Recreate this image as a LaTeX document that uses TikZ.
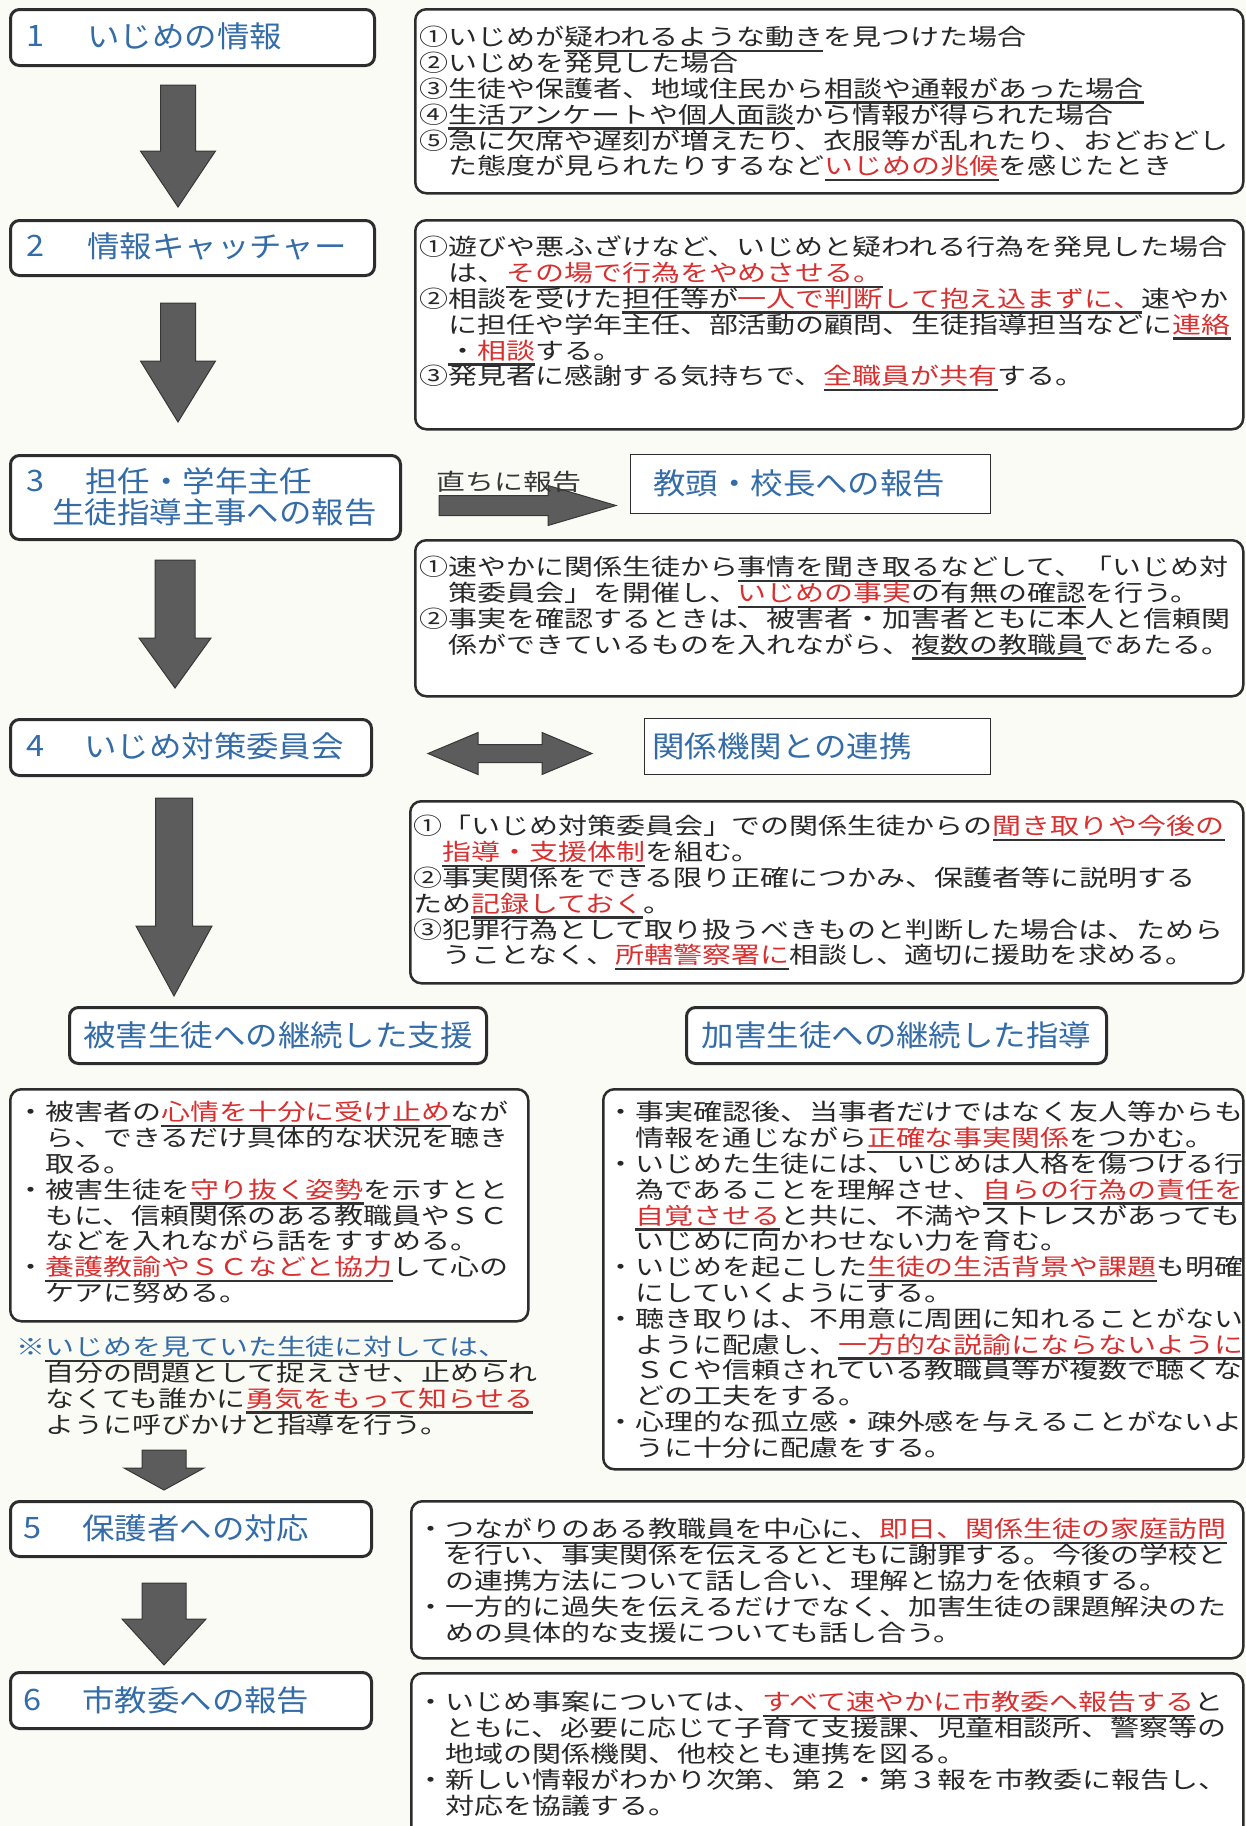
\documentclass[tikz,border=0pt]{standalone}
\usepackage{fontspec}
\usetikzlibrary{calc}
\newfontfamily\jpb[FakeStretch=1.26]{Noto Sans CJK JP}
\newfontfamily\jph[FakeStretch=1.1]{Noto Sans CJK JP}
\definecolor{hblue}{RGB}{52,108,168}
\definecolor{jred}{RGB}{216,48,48}
\definecolor{txt}{RGB}{40,40,40}
\definecolor{ulc}{RGB}{50,50,50}
\definecolor{hdark}{RGB}{45,45,45}
\definecolor{agray}{RGB}{92,92,92}
\definecolor{adark}{RGB}{55,55,55}
\definecolor{bgc}{RGB}{251,251,245}
\setlength{\lineskiplimit}{-100pt}
\newcommand\rd[1]{\textcolor{jred}{#1}}
\newcommand\ulx[1]{\leavevmode\setbox0\hbox{#1}\rlap{\raisebox{-6.5pt}[0pt][0pt]{\color{ulc}\rule{\wd0}{2.6pt}}}\box0}
\newcommand\fl{\rule{0pt}{20pt}}
\tikzset{
 hbox/.style={draw=hdark, line width=3pt, rounded corners=9pt, fill=white, inner sep=0pt, anchor=north west},
 tbox/.style={draw=hdark, line width=2.5pt, rounded corners=11pt, fill=white, inner sep=0pt, anchor=north west},
 pbox/.style={draw=hdark, line width=1.3pt, fill=white, inner sep=0pt, anchor=north west},
 htxt/.style={font={\jph\fontsize{29.5}{31}\selectfont}, text=hblue, inner sep=0pt, anchor=west},
 body/.style={font={\jpb\fontsize{23}{25.8}\selectfont\lineskiplimit=-100pt}, text=txt, align=left, inner sep=0pt, anchor=north west},
 blk/.style={fill=agray, draw=adark, line width=1pt},
 darrow/.style n args={3}{to path={let \p1=(\tikztostart),\p2=(\tikztotarget) in
   (\x1-#1,\y1) -- (\x1+#1,\y1) -- (\x1+#1,\y2+#3) -- (\x1+#2,\y2+#3) -- (\x1,\y2) -- (\x1-#2,\y2+#3) -- (\x1-#1,\y2+#3) -- cycle}},
 rarrow/.style n args={3}{to path={let \p1=(\tikztostart),\p2=(\tikztotarget) in
   (\x1,\y1+#1) -- (\x2-#3,\y1+#1) -- (\x2-#3,\y1+#2) -- (\x2,\y1) -- (\x2-#3,\y1-#2) -- (\x2-#3,\y1-#1) -- (\x1,\y1-#1) -- cycle}},
 lrarrow/.style n args={3}{to path={let \p1=(\tikztostart),\p2=(\tikztotarget) in
   (\x1,\y1) -- (\x1+#3,\y1+#2) -- (\x1+#3,\y1+#1) -- (\x2-#3,\y1+#1) -- (\x2-#3,\y1+#2) -- (\x2,\y1) -- (\x2-#3,\y1-#2) -- (\x2-#3,\y1-#1) -- (\x1+#3,\y1-#1) -- (\x1+#3,\y1-#2) -- cycle}},
}
\begin{document}
\begin{tikzpicture}[x=1pt,y=-1pt]
\useasboundingbox (0,0) rectangle (1246,1826);
\clip (0,0) rectangle (1246,1826);
\fill[bgc] (0,0) rectangle (1246,1826);

% ---------- left header boxes
\node[hbox, minimum width=364pt, minimum height=56pt] (h1) at (9,8) {};
\node[htxt] (h1n) at (26,36) {1};
\node[htxt] (h1t) at (87,36) {いじめの情報};
\node[hbox, minimum width=364pt, minimum height=55pt] (h2) at (9,219) {};
\node[htxt] (h2n) at (26,246) {2};
\node[htxt] (h2t) at (87,246) {情報キャッチャー};
\node[hbox, minimum width=390pt, minimum height=84pt] (h3) at (9,454) {};
\node[htxt] (h3n) at (26,481) {3};
\node[htxt] (h3t) at (85,481) {担任・学年主任};
\node[htxt] (h3u) at (52,512) {生徒指導主事への報告};
\node[hbox, minimum width=361pt, minimum height=56pt] (h4) at (9,718) {};
\node[htxt] (h4n) at (26,746) {4};
\node[htxt] (h4t) at (84,746) {いじめ対策委員会};
\node[hbox, minimum width=361pt, minimum height=55pt] (h5) at (9,1500) {};
\node[htxt] (h5n) at (23,1528) {5};
\node[htxt] (h5t) at (82,1528) {保護者への対応};
\node[hbox, minimum width=361pt, minimum height=56pt] (h6) at (9,1671) {};
\node[htxt] (h6n) at (23,1700) {6};
\node[htxt] (h6t) at (82,1700) {市教委への報告};

% ---------- plain boxes
\node[pbox, minimum width=360pt, minimum height=59pt] (kyo) at (630,454) {};
\node[htxt] (kyot) at (653,483) {教頭・校長への報告};
\node[pbox, minimum width=346pt, minimum height=56pt] (kan) at (644,718) {};
\node[htxt] (kant) at (652,746) {関係機関との連携};

% ---------- support headers
\node[hbox, minimum width=417pt, minimum height=56pt] (hv) at (68,1006) {};
\node[htxt, anchor=center] (hvt) at (hv.center) {被害生徒への継続した支援};
\node[hbox, minimum width=420pt, minimum height=56pt] (ha) at (685,1006) {};
\node[htxt, anchor=center] (hat) at (ha.center) {加害生徒への継続した指導};

% ---------- text boxes
\node[tbox, minimum width=828pt, minimum height=184pt] (ba) at (414,8) {};
\node[body] (ta) at (419,25.7) {\fl①いじめが\ulx{疑われるような動き}を見つけた場合\\
②いじめを発見した場合\\
③生徒や保護者、地域住民から\ulx{相談や通報があった場合}\\
④\ulx{生活アンケートや個人面談}から情報が得られた場合\\
⑤急に欠席や遅刻が増えたり、衣服等が乱れたり、おどおどし\\
　た態度が見られたりするなど\ulx{\rd{いじめの兆候}}を感じたとき};

\node[tbox, minimum width=828pt, minimum height=209pt] (bb) at (414,219) {};
\node[body] (tb) at (419,235.7) {\fl①遊びや悪ふざけなど、いじめと疑われる行為を発見した場合\\
　は、\ulx{\rd{その場で行為をやめさせる。}}\\
②相談を受けた\ulx{担任等が\rd{一人で判断して抱え込まずに、}}速やか\\
　に担任や学年主任、部活動の顧問、生徒指導担当などに\ulx{\rd{連絡}}\\
　\ulx{・\rd{相談}}する。\\
③発見者に感謝する気持ちで、\ulx{\rd{全職員が共有}}する。};

\node[tbox, minimum width=828pt, minimum height=156pt] (bc) at (414,539) {};
\node[body] (tc) at (419,555.7) {\fl①速やかに関係生徒から\ulx{事情を聞き取る}などして、「いじめ対\\
　策委員会」を開催し、\ulx{\rd{いじめの事実}の有無の確認}を行う。\\
②事実を確認するときは、被害者・加害者ともに本人と信頼関\\
　係ができているものを入れながら、\ulx{複数の教職員}であたる。};

\node[tbox, minimum width=833pt, minimum height=182pt] (bd) at (409,800) {};
\node[body] (td) at (413,814.7) {\fl①「いじめ対策委員会」での関係生徒からの\ulx{\rd{聞き取りや今後の}}\\
　\ulx{\rd{指導・支援体制}}を組む。\\
②事実関係をできる限り正確につかみ、保護者等に説明する\\
ため\ulx{\rd{記録しておく}}。\\
③犯罪行為として取り扱うべきものと判断した場合は、ためら\\
　うことなく、\ulx{\rd{所轄警察署に}}相談し、適切に援助を求める。};

\node[tbox, minimum width=518pt, minimum height=232pt] (bl) at (9,1088) {};
\node[body] (tl) at (16,1100.7) {\fl・被害者の\ulx{\rd{心情を十分に受け止め}}なが\\
　ら、できるだけ具体的な状況を聴き\\
　取る。\\
・被害生徒を\ulx{\rd{守り抜く姿勢}}を示すとと\\
　もに、信頼関係のある教職員やＳＣ\\
　などを入れながら話をすすめる。\\
・\ulx{\rd{養護教諭やＳＣなどと協力}}して心の\\
　ケアに努める。};

\node[body] (tn) at (16,1335.7) {\fl\textcolor{hblue}{※}\ulx{\textcolor{hblue}{いじめを見ていた生徒に対しては、}}\\
　自分の問題として捉えさせ、止められ\\
　なくても誰かに\ulx{\rd{勇気をもって知らせる}}\\
　ように呼びかけと指導を行う。};

\node[tbox, minimum width=640pt, minimum height=380pt] (br) at (602,1088) {};
\node[body] (tr) at (606,1100.7) {\fl・事実確認後、当事者だけではなく友人等からも\\
　情報を通じながら\ulx{\rd{正確な事実関係}をつかむ}。\\
・いじめた生徒には、いじめは人格を傷つける行\\
　為であることを理解させ、\ulx{\rd{自らの行為の責任を}}\\
　\ulx{\rd{自覚させる}}と共に、不満やストレスがあっても\\
　いじめに向かわせない力を育む。\\
・いじめを起こした\ulx{\rd{生徒の生活背景や課題}}も明確\\
　にしていくようにする。\\
・聴き取りは、不用意に周囲に知れることがない\\
　ように配慮し、\ulx{\rd{一方的な説諭にならないように}}\\
　ＳＣや信頼されている教職員等が複数で聴くな\\
　どの工夫をする。\\
・心理的な孤立感・疎外感を与えることがないよ\\
　うに十分に配慮をする。};

\node[tbox, minimum width=832pt, minimum height=157pt] (b5) at (410,1500) {};
\node[body] (t5) at (416,1517.7) {\fl・\ulx{つながりのある教職員を中心に、\rd{即日、関係生徒の家庭訪問}}\\
　を行い、事実関係を伝えるとともに謝罪する。今後の学校と\\
　の連携方法について話し合い、理解と協力を依頼する。\\
・一方的に過失を伝えるだけでなく、加害生徒の課題解決のた\\
　めの具体的な支援についても話し合う。};

\node[tbox, minimum width=832pt, minimum height=185pt] (b6) at (410,1672) {};
\node[body] (t6) at (416,1690.7) {\fl・いじめ事案については、\ulx{\rd{すべて速やかに市教委へ報告する}}と\\
　ともに、必要に応じて子育て支援課、児童相談所、警察等の\\
　地域の関係機関、他校とも連携を図る。\\
・新しい情報がわかり次第、第２・第３報を市教委に報告し、\\
　対応を協議する。};

% ---------- block arrows
\path[blk, darrow={17.5pt}{37.5pt}{56pt}] ($(h1.south west)+(169,18)$) to ($(h2.north)+(0,-12)$);
\path[blk, darrow={17.5pt}{37.5pt}{61pt}] ($(h2.south west)+(169,26)$) to ($(h3.north)+(0,-32)$);
\path[blk, darrow={20pt}{36pt}{50pt}] ($(h3.south west)+(166,19)$) to ($(h4.north)+(0,-30)$);
\path[blk, darrow={18.5pt}{38pt}{70pt}] ($(h4.south west)+(165,21)$) to ($(hv.north)+(0,-10)$);
\path[blk, darrow={22pt}{40pt}{22pt}] ($(h5.north west)+(155,-50)$) to ($(h5.north)+(0,-10)$);
\path[blk, darrow={22pt}{42pt}{46pt}] ($(h5.south west)+(155,25)$) to ($(h6.north)+(0,-6)$);
\path[blk, rarrow={10pt}{20pt}{68pt}] ($(h3.east)+(37,8)$) to ($(kyo.west)+(-14,0)$);
\path[blk, lrarrow={9pt}{21pt}{50pt}] ($(h4.east)+(55,6)$) to ($(kan.west)+(-52,0)$);
\node[body, anchor=west, text=adark] (tad) at (436,482) {直ちに報告};
\end{tikzpicture}
\end{document}
